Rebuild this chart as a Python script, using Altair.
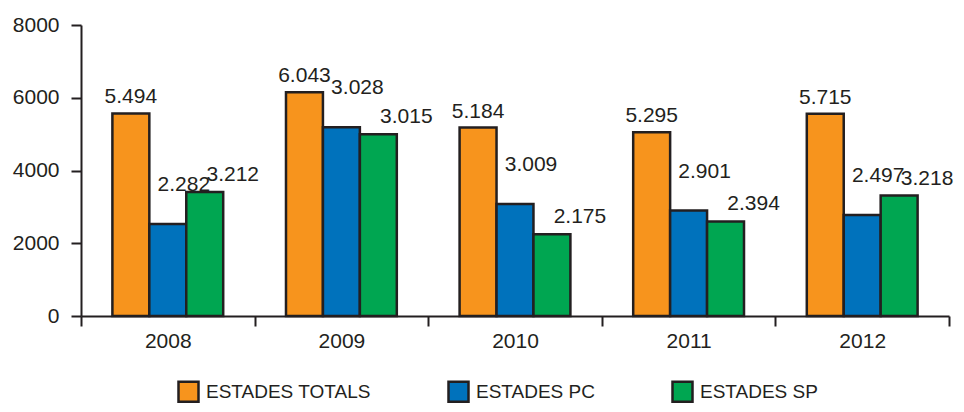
import altair as alt
import pandas as pd

years = ["2008", "2009", "2010", "2011", "2012"]
series = ["ESTADES TOTALS", "ESTADES PC", "ESTADES SP"]
totals = [5570, 6150, 5180, 5050, 5560]
pc = [2530, 5190, 3080, 2900, 2780]
sp = [3410, 5000, 2250, 2600, 3310]
labels_totals = ["5.494", "6.043", "5.184", "5.295", "5.715"]
labels_pc = ["2.282", "3.028", "3.009", "2.901", "2.497"]
labels_sp = ["3.212", "3.015", "2.175", "2.394", "3.218"]
colors = ["#F7941D", "#0072BC", "#00A651"]

rows = []
for s, vals, labs in zip(series, [totals, pc, sp], [labels_totals, labels_pc, labels_sp]):
    for y, v, l in zip(years, vals, labs):
        rows.append({"year": y, "serie": s, "value": v, "label": l})
df = pd.DataFrame(rows)

FONT = "Liberation Sans"
INK = "#231f20"

x = alt.X("year:N", title=None, sort=years,
          scale=alt.Scale(paddingInner=0, paddingOuter=0),
          axis=alt.Axis(tickBand="extent", labelAngle=0, tickSize=10, tickWidth=2,
                        domainWidth=2, domainColor=INK, tickColor=INK,
                        labelFont=FONT, labelFontSize=21, labelColor=INK,
                        labelPadding=4))
xoff = alt.XOffset("serie:N", sort=series,
                   scale=alt.Scale(paddingInner=0, paddingOuter=0.85))
y = alt.Y("value:Q", title=None,
          scale=alt.Scale(domain=[0, 8000], nice=False),
          axis=alt.Axis(values=[0, 2000, 4000, 6000, 8000], format="d", grid=False,
                        tickSize=10, tickWidth=2, domainWidth=2, domainColor=INK,
                        tickColor=INK, labelFont=FONT, labelFontSize=21,
                        labelColor=INK, labelPadding=12))
color = alt.Color("serie:N", sort=series,
                  scale=alt.Scale(domain=series, range=colors),
                  legend=alt.Legend(title=None, orient="none", direction="horizontal",
                                    legendX=96, legendY=355, padding=0,
                                    symbolType="square", symbolSize=400,
                                    symbolStrokeColor=INK, symbolStrokeWidth=2.5,
                                    symbolOpacity=1,
                                    labelFont=FONT, labelFontSize=19, labelColor=INK,
                                    labelOffset=6, columnPadding=72, labelLimit=400))

bars = alt.Chart(df).mark_bar(stroke=INK, strokeWidth=2.5, opacity=1).encode(
    x=x, xOffset=xoff, y=y, color=color)

dxs = [0, 16, 28]
dys = [-10, -33, -11]
texts = []
for s, dx, dy in zip(series, dxs, dys):
    texts.append(
        alt.Chart(df).transform_filter(alt.datum.serie == s)
        .mark_text(font=FONT, fontSize=21, color=INK, dx=dx, dy=dy,
                   baseline="alphabetic", align="center")
        .encode(x=alt.X("year:N", sort=years), xOffset=xoff,
                y="value:Q", text="label:N")
    )

chart = alt.layer(bars, *texts).properties(
    width=868, height=291,
    autosize=alt.AutoSizeParams(type="none"),
    padding={"left": 73, "top": 17, "right": 7, "bottom": 87},
).configure(background="white", view=alt.ViewConfig(stroke=None))

chart.save("out.html", embed_options={"renderer": "svg", "actions": False})
